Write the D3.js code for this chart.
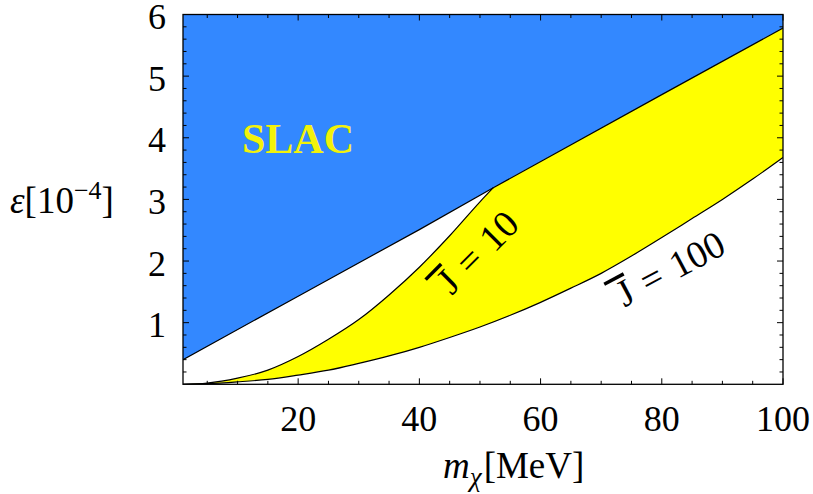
<!DOCTYPE html>
<html>
<head>
<meta charset="utf-8">
<script src="https://cdn.jsdelivr.net/npm/d3@7"></script>
<style>
  html, body { margin: 0; padding: 0; background: #fff; }
  svg { display: block; }
  text { font-family: "Liberation Serif", "Times New Roman", serif; }
</style>
</head>
<body>
<svg id="chart" width="813" height="494"></svg>
<script>
// ---- data ----
const slacMass = [1, 20, 40, 52.2, 80, 100];
const slacEps  = [0.40, 1.43, 2.51, 3.19, 4.70, 5.78];

const j10Mass = [1, 5, 10, 15, 20, 25, 30, 35, 40, 45, 50, 52.2];
const j10Eps  = [0.0, 0.02, 0.10, 0.23, 0.45, 0.73, 1.05, 1.45, 1.90, 2.41, 2.96, 3.19];

const j100Mass = [1, 5, 10, 15, 20, 25, 30, 35, 40, 45, 50, 55, 60, 65, 70, 75, 80, 85, 90, 95, 100];
const j100Eps  = [0.0, 0.01, 0.04, 0.08, 0.15, 0.23, 0.34, 0.46, 0.60, 0.76, 0.93, 1.12, 1.33, 1.56, 1.80, 2.08, 2.38, 2.69, 3.00, 3.33, 3.68];

const xTickLabels = [20, 40, 60, 80, 100];
const yTickLabels = [1, 2, 3, 4, 5, 6];
const xDomain = [1, 100];
const yDomain = [0, 6];

// ---- layout ----
const L = 183, R = 783, T = 14.5, B = 384.3;
const svg = d3.select("#chart");
const x = d3.scaleLinear().domain(xDomain).range([L, R]);
const y = d3.scaleLinear().domain(yDomain).range([B, T]);

const zip = (a, b) => a.map((v, i) => [v, b[i]]);
const slac = zip(slacMass, slacEps);
const j10 = zip(j10Mass, j10Eps);
const j100 = zip(j100Mass, j100Eps);

const BLUE = "#3388ff", YELLOW = "#ffff00";

svg.append("defs").append("clipPath").attr("id", "plotclip")
  .append("rect").attr("x", L).attr("y", T).attr("width", R - L).attr("height", B - T);
const g = svg.append("g").attr("clip-path", "url(#plotclip)");

const lineC = d3.line().x(d => x(d[0])).y(d => y(d[1])).curve(d3.curveMonotoneX);
const lineL = d3.line().x(d => x(d[0])).y(d => y(d[1]));

// blue (SLAC excluded) region
const bluePoly = slac.concat([[xDomain[1], yDomain[1]], [xDomain[0], yDomain[1]]]);
g.append("path").attr("d", lineL(bluePoly) + "Z").attr("fill", BLUE);

// yellow band: J100 (bottom) -> SLAC from right back to junction -> J10 back to left
const junction = j10[j10.length - 1];
const slacRight = slac.filter(d => d[0] > junction[0]).reverse().concat([junction]);
const yellowD = lineC(j100) +
  lineL(slacRight).replace(/^M/, "L") +
  lineC(j10.slice().reverse()).replace(/^M/, "L") + "Z";
g.append("path").attr("d", yellowD).attr("fill", YELLOW);

// boundary lines
[ [lineL, slac], [lineC, j10], [lineC, j100] ].forEach(([gen, data]) => {
  g.append("path").attr("d", gen(data)).attr("fill", "none")
    .attr("stroke", "#000").attr("stroke-width", 1.2);
});

// ---- frame & ticks ----
const frame = svg.append("g");
frame.append("rect").attr("x", L).attr("y", T).attr("width", R - L).attr("height", B - T)
  .attr("fill", "none").attr("stroke", "#000").attr("stroke-width", 1.3);

const MAJ = 6, MIN = 3.5;
d3.range(5, 100.01, 5).forEach(v => {
  const len = (v % 20 === 0) ? MAJ : MIN;
  const px = x(v);
  frame.append("line").attr("x1", px).attr("x2", px).attr("y1", B).attr("y2", B - len)
    .attr("stroke", "#000").attr("stroke-width", 1);
  frame.append("line").attr("x1", px).attr("x2", px).attr("y1", T).attr("y2", T + len)
    .attr("stroke", "#000").attr("stroke-width", 1);
});
d3.range(0.2, 6.001, 0.2).forEach(v => {
  const isMaj = Math.abs(v - Math.round(v)) < 1e-6;
  const len = isMaj ? MAJ : MIN;
  const py = y(v);
  frame.append("line").attr("x1", L).attr("x2", L + len).attr("y1", py).attr("y2", py)
    .attr("stroke", "#000").attr("stroke-width", 1);
  frame.append("line").attr("x1", R).attr("x2", R - len).attr("y1", py).attr("y2", py)
    .attr("stroke", "#000").attr("stroke-width", 1);
});

// tick labels
xTickLabels.forEach(v => {
  svg.append("text").attr("x", x(v)).attr("y", 431).attr("text-anchor", "middle")
    .attr("font-size", 36).text(v);
});
yTickLabels.forEach(v => {
  svg.append("text").attr("x", 166).attr("y", y(v) + 14.5).attr("text-anchor", "end")
    .attr("font-size", 36).text(v);
});

// axis titles
const yt = svg.append("text").attr("x", 10).attr("y", 213).attr("font-size", 37);
yt.append("tspan").attr("font-style", "italic").text("ε");
yt.append("tspan").text("[10");
yt.append("tspan").attr("font-size", 26).attr("dy", -14).text("−4");
yt.append("tspan").attr("dy", 14).text("]");

const xt = svg.append("text").attr("x", 443).attr("y", 478).attr("font-size", 37);
xt.append("tspan").attr("font-style", "italic").text("m");
xt.append("tspan").attr("font-style", "italic").attr("font-size", 27).attr("dy", 8).text("χ");
xt.append("tspan").attr("dy", -8).attr("dx", 2).text("[MeV]");

// SLAC label
svg.append("text").attr("x", 242).attr("y", 153).attr("font-size", 42)
  .attr("font-weight", "bold").attr("fill", "#f2f20a").text("SLAC");

// curve labels (J with overline), placed from the start of the J
function curveLabel(sx, sy, angle, num) {
  const lg = svg.append("g").attr("transform", `translate(${sx},${sy}) rotate(${angle})`);
  const t = lg.append("text").attr("x", 0).attr("y", 0).attr("font-size", 38);
  t.append("tspan").text("J");
  t.append("tspan").attr("dx", 12).text("=");
  t.append("tspan").attr("dx", 12).text(num);
  lg.append("line").attr("x1", -7).attr("x2", 15).attr("y1", -30).attr("y2", -30)
    .attr("stroke", "#000").attr("stroke-width", 3.5);
}
curveLabel(451.8, 295.9, -45, 10);
curveLabel(624.5, 307.4, -28, 100);
</script>
</body>
</html>
